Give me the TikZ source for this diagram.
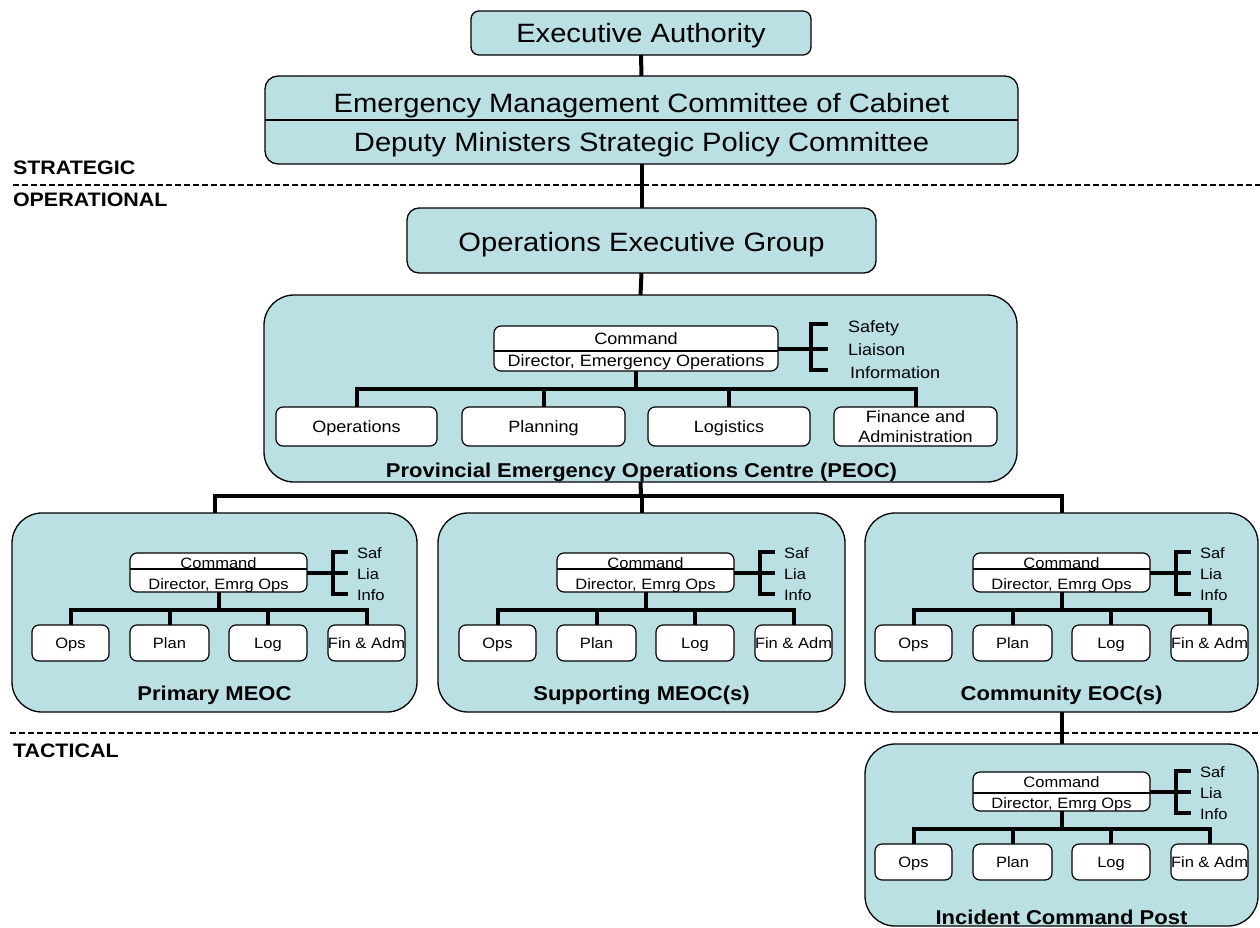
\documentclass[tikz,border=0pt]{standalone}
\usepackage{fontspec}
\setmainfont{Liberation Sans}[FakeStretch=1.1]
\definecolor{boxfill}{RGB}{187,224,227}
\newcommand\fz[1]{\fontsize{#1}{#1}\selectfont}
\newcommand\bx[7]{\node[#6, minimum width={((#4)-(#2))*1pt}, minimum height={((#5)-(#3))*1pt}] (#1) at ({((#2)+(#4))/2},{((#3)+(#5))/2}) {#7};}
\tikzset{
  conn/.style={line width=4pt},
  thinl/.style={line width=1.2pt},
  dashl/.style={line width=2pt, dash pattern=on 6pt off 3pt},
  tealbox/.style={draw=black, line width=1.3pt, fill=boxfill, rounded corners=#1, inner sep=0pt, outer sep=0pt},
  wbox/.style={draw=black, line width=1.2pt, fill=white, rounded corners=7pt, inner sep=0pt, outer sep=0pt, align=center},
  txt/.style={inner sep=0pt, outer sep=0pt, anchor=base},
  lbl/.style={inner sep=0pt, outer sep=0pt, anchor=base west, font=\bfseries\fz{19.5}},
}
% #1 prefix, #2 cx (command left), #3 cy (command top), #4 divider offset
\newcommand\eocmod[4]{%
  \bx{#1cmd}{#2}{#3}{#2+177}{#3+39}{wbox}{}
  \draw[thinl] ({#2},{#3+#4}) -- ({#2+177},{#3+#4});
  \node[txt, font=\fz{15}] (#1cmdt) at ({#2+88.5},{#3+15.4}) {Command};
  \node[txt, font=\fz{15}] (#1dir) at ({#2+88.5},{#3+36.4}) {Director, Emrg Ops};
  \bx{#1ops}{#2-98}{#3+72}{#2-21}{#3+108}{wbox}{}
  \bx{#1plan}{#2}{#3+72}{#2+79}{#3+108}{wbox}{}
  \bx{#1log}{#2+99}{#3+72}{#2+177}{#3+108}{wbox}{}
  \bx{#1fin}{#2+198}{#3+72}{#2+275}{#3+108}{wbox}{}
  \node[txt, font=\fz{15}] (#1opst) at ({#2-59.5},{#3+95.4}) {Ops};
  \node[txt, font=\fz{15}] (#1plant) at ({#2+39.5},{#3+95.4}) {Plan};
  \node[txt, font=\fz{15}] (#1logt) at ({#2+138},{#3+95.4}) {Log};
  \node[txt, font=\fz{15}] (#1fint) at ({#2+236.5},{#3+95.4}) {Fin \& Adm};
  \coordinate (#1bus) at ({#2+88.5},{#3+57});
  \draw[conn] (#1cmd.south) -- (#1bus);
  \draw[conn] (#1ops.north) |- (#1bus) -| (#1fin.north);
  \draw[conn] (#1plan.north) -- (#1plan.north |- #1bus);
  \draw[conn] (#1log.north) -- (#1log.north |- #1bus);
  \coordinate (#1tt) at ({#2+218},{#3-1});
  \coordinate (#1tm) at ({#2+218},{#3+19.5});
  \coordinate (#1tb) at ({#2+218},{#3+41});
  \coordinate (#1vt) at ({#2+203},{#3-1});
  \coordinate (#1vb) at ({#2+203},{#3+41});
  \draw[conn] (#1tt) -- (#1vt) -- (#1vb) -- (#1tb);
  \draw[conn] (#1cmd.east) -- (#1tm);
  \node[txt, anchor=base west, font=\fz{15}] (#1saf) at ({#2+227},{#3+5.4}) {Saf};
  \node[txt, anchor=base west, font=\fz{15}] (#1lia) at ({#2+227},{#3+26.4}) {Lia};
  \node[txt, anchor=base west, font=\fz{15}] (#1info) at ({#2+227},{#3+47.4}) {Info};
}
\begin{document}
\begin{tikzpicture}[x=1pt,y=-1pt]
\useasboundingbox (0,0) rectangle (1260,928);
% level separators
\coordinate (d1a) at (13,185); \coordinate (d1b) at (1260,185);
\coordinate (d2a) at (10,733); \coordinate (d2b) at (1260,733);
\draw[dashl] (d1a) -- (d1b);
\draw[dashl] (d2a) -- (d2b);
\node[lbl] (strat) at (13,175) {STRATEGIC};
\node[lbl] (oper) at (13,207) {OPERATIONAL};
\node[lbl] (tact) at (13,757) {TACTICAL};
% top boxes
\bx{exec}{471}{11}{811}{55}{tealbox=8pt}{}
\node[txt, font=\fz{26.5}] (exect) at (641,42.5) {Executive Authority};
\bx{emc}{265}{76}{1018}{164}{tealbox=13pt}{}
\draw[thinl] (265,120) -- (1018,120);
\node[txt, font=\fz{26.5}] (emct) at (641.5,112.5) {Emergency Management Committee of Cabinet};
\node[txt, font=\fz{26.5}] (dmt) at (641.5,151.5) {Deputy Ministers Strategic Policy Committee};
\bx{oeg}{407}{208}{876}{273}{tealbox=12pt}{}
\node[txt, font=\fz{26.5}] (oegt) at (641.5,251.5) {Operations Executive Group};
% PEOC
\bx{peoc}{264}{295}{1017}{482}{tealbox=30pt}{}
\node[txt, font=\bfseries\fz{20}] (peoct) at (641.5,477) {Provincial Emergency Operations Centre (PEOC)};
\bx{pcmd}{494}{326}{778}{371}{wbox}{}
\draw[thinl] (494,351) -- (778,351);
\node[txt, font=\fz{16.4}] (pcmdt) at (636,344) {Command};
\node[txt, font=\fz{16.4}] (pdir) at (636,366) {Director, Emergency Operations};
\bx{pops}{276}{407}{437}{446}{wbox}{}
\bx{pplan}{462}{407}{625}{446}{wbox}{}
\bx{plog}{648}{407}{810}{446}{wbox}{}
\bx{pfin}{834}{407}{997}{446}{wbox}{}
\node[txt, font=\fz{16.4}] (popst) at (356.5,432.5) {Operations};
\node[txt, font=\fz{16.4}] (pplant) at (543.5,432.5) {Planning};
\node[txt, font=\fz{16.4}] (plogt) at (729,432.5) {Logistics};
\node[inner sep=0pt, outer sep=0pt, align=center, font=\fontsize{16.4}{20}\selectfont] (pfint) at (915.5,427) {Finance and\\Administration};
\coordinate (pbus) at (636,389);
\draw[conn] (pcmd.south) -- (pbus);
\draw[conn] (pops.north) |- (pbus) -| (pfin.north);
\draw[conn] (pplan.north) -- (pplan.north |- pbus);
\draw[conn] (plog.north) -- (plog.north |- pbus);
\coordinate (ptt) at (828,324); \coordinate (ptm) at (828,348.5); \coordinate (ptb) at (828,370);
\coordinate (pvt) at (811,324); \coordinate (pvb) at (811,370);
\draw[conn] (ptt) -- (pvt) -- (pvb) -- (ptb);
\draw[conn] (pcmd.east) -- (ptm);
\node[txt, anchor=base west, font=\fz{16.4}] (psaf) at (848,332) {Safety};
\node[txt, anchor=base west, font=\fz{16.4}] (plia) at (848,355) {Liaison};
\node[txt, anchor=base west, font=\fz{16.4}] (pinfo) at (850,378) {Information};
% lower module boxes
\bx{prim}{12}{513}{417}{712}{tealbox=30pt}{}
\bx{supp}{438}{513}{845}{712}{tealbox=30pt}{}
\bx{comm}{865}{513}{1258}{712}{tealbox=30pt}{}
\bx{icp}{865}{744}{1258}{926}{tealbox=30pt}{}
\node[txt, font=\bfseries\fz{20}] (primt) at (214.5,700) {Primary MEOC};
\node[txt, font=\bfseries\fz{20}] (suppt) at (641.5,700) {Supporting MEOC(s)};
\node[txt, font=\bfseries\fz{20}] (commt) at (1061.5,700) {Community EOC(s)};
\node[txt, font=\bfseries\fz{20}] (icpt) at (1061.5,924) {Incident Command Post};
\eocmod{a}{130}{553}{16}
\eocmod{b}{557}{553}{16}
\eocmod{c}{973}{553}{16}
\eocmod{d}{973}{772}{21}
% main connectors
\draw[conn] (exec.south) -- (emc.north);
\draw[conn] (emc.south) -- (oeg.north);
\draw[conn] (oeg.south) -- (peoc.north);
\coordinate (mbus) at (641,496);
\draw[conn] (peoc.south) -- (mbus);
\draw[conn] (prim.north) |- (mbus) -| (comm.north);
\draw[conn] (supp.north) -- (supp.north |- mbus);
\draw[conn] (comm.south) -- (icp.north);
\end{tikzpicture}
\end{document}
